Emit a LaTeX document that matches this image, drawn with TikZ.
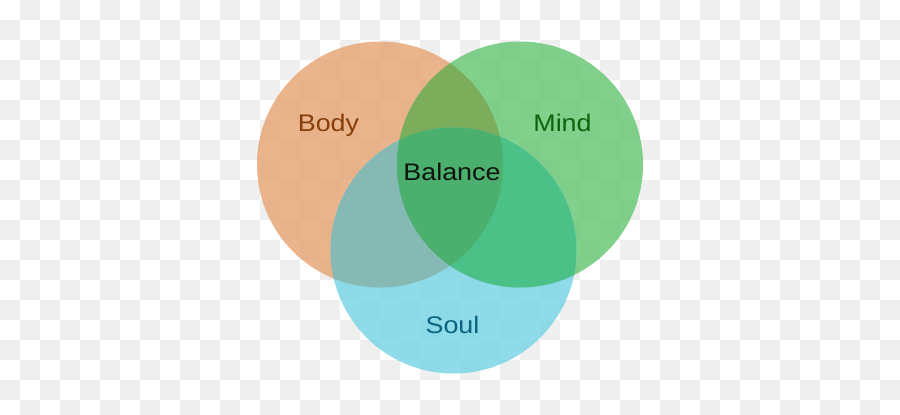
\documentclass[tikz,border=0pt]{standalone}
\usepackage{fontspec}
\newfontfamily\vennfont[FakeStretch=1.12]{Liberation Sans}
\usetikzlibrary{positioning}

\definecolor{checkgray}{RGB}{239,239,239}
\definecolor{bodyfill}{RGB}{229,163,113}
\definecolor{mindfill}{RGB}{98,198,113}
\definecolor{soulfill}{RGB}{115,211,228}
\definecolor{bodymind}{RGB}{123,173,90}
\definecolor{bodysoul}{RGB}{134,184,180}
\definecolor{mindsoul}{RGB}{75,192,135}
\definecolor{allthree}{RGB}{75,175,110}
\definecolor{bodytext}{RGB}{135,62,8}
\definecolor{mindtext}{RGB}{12,100,12}
\definecolor{soultext}{RGB}{10,100,128}
\definecolor{balancetext}{RGB}{15,20,15}

\begin{document}
\begin{tikzpicture}[x=1pt, y=-1pt,
  label text/.style={font=\vennfont\fontsize{24}{28}\selectfont, anchor=base, inner sep=0pt},
  single/.style={fill opacity=0.8}]
\useasboundingbox (0,0) rectangle (900,415);
\clip (0,0) rectangle (900,415);
% checker background
\fill[white] (0,0) rectangle (900,415);
\foreach \i in {0,...,44}
  \foreach \j in {0,...,20}{
    \pgfmathparse{int(mod(\i+\j,2))}
    \ifnum\pgfmathresult=1 \fill[checkgray] (20*\i,20*\j) rectangle ++(20,20); \fi
  }

% circle centres
\coordinate (body) at (380,164.5);
\coordinate (mind) at (520,164.5);
\coordinate (soul) at (453.5,250.5);
\def\rad{123}

% single circles
\fill[bodyfill, single] (body) circle[radius=\rad];
\fill[mindfill, single] (mind) circle[radius=\rad];
\fill[soulfill, single] (soul) circle[radius=\rad];

% pairwise overlaps
\begin{scope}
  \clip (body) circle[radius=\rad];
  \fill[bodymind] (mind) circle[radius=\rad];
  \fill[bodysoul] (soul) circle[radius=\rad];
\end{scope}
\begin{scope}
  \clip (mind) circle[radius=\rad];
  \fill[mindsoul] (soul) circle[radius=\rad];
\end{scope}
% centre
\begin{scope}
  \clip (body) circle[radius=\rad];
  \clip (mind) circle[radius=\rad];
  \fill[allthree] (soul) circle[radius=\rad];
\end{scope}

% labels
\node[label text, text=bodytext] (bodylabel) at (328.5,131) {Body};
\node[label text, text=mindtext] (mindlabel) at (562.5,131) {Mind};
\node[label text, text=soultext] (soullabel) at (452.5,333) {Soul};
\node[label text, text=balancetext] (balancelabel) at (452,180) {Balance};
\end{tikzpicture}
\end{document}
